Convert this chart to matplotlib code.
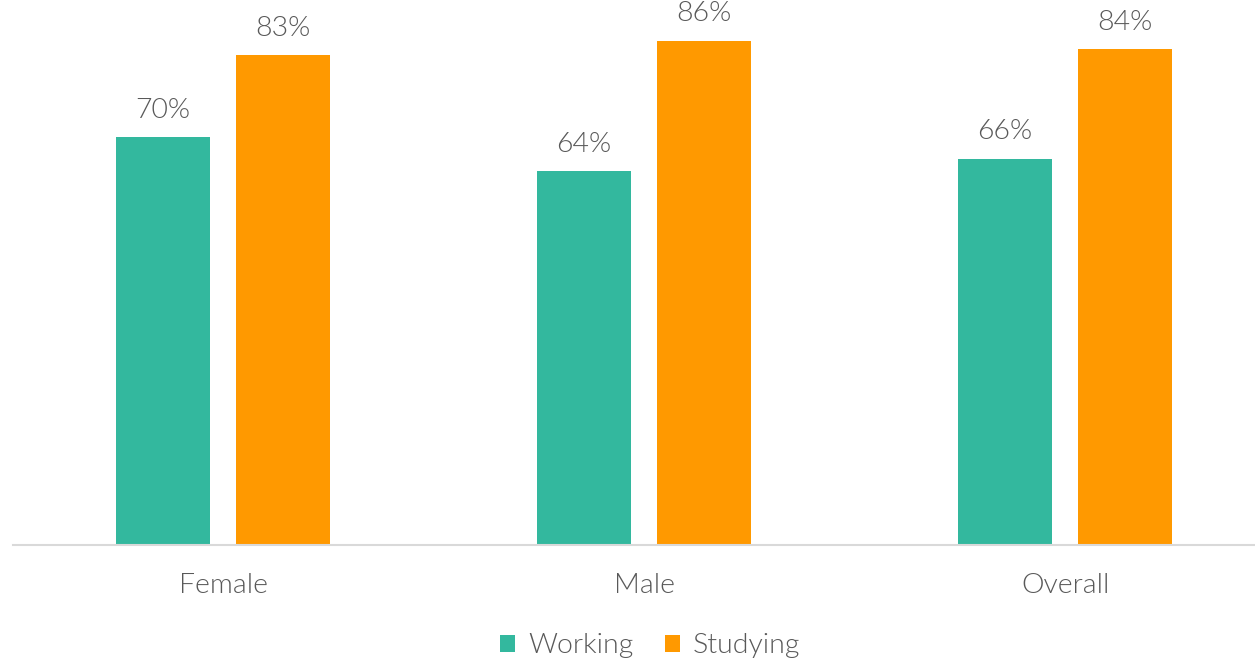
import matplotlib
matplotlib.use("Agg")
import matplotlib.pyplot as plt
import numpy as np

plt.rcParams['font.family'] = ['Lato', 'DejaVu Sans']

categories = ['Female', 'Male', 'Overall']
working = [69.6, 63.8, 65.9]
studying = [83.6, 86.0, 84.6]
working_labels = ['70%', '64%', '66%']
studying_labels = ['83%', '86%', '84%']

teal = '#33b89e'
orange = '#ff9900'
grey = '#595959'

fig = plt.figure(figsize=(12.55, 6.62), dpi=100)
ax = fig.add_axes([0.0, 117 / 662, 1.0, 545 / 662])

x = np.arange(len(categories))
w = 0.2233
off = 0.1425
b1 = ax.bar(x - off, working, w, color=teal, label='Working')
b2 = ax.bar(x + off, studying, w, color=orange, label='Studying')

for bars, labels in ((b1, working_labels), (b2, studying_labels)):
    for rect, lab in zip(bars, labels):
        ax.annotate(lab, (rect.get_x() + rect.get_width() / 2, rect.get_height()),
                    xytext=(0, 10.5), textcoords='offset points', ha='center', va='bottom',
                    fontsize=20.5, color=grey, fontweight=300, annotation_clip=False)

ax.set_xlim(-0.53, 2.451)
ax.set_ylim(0, 93)
ax.set_xticks(x)
ax.set_xticklabels(categories, fontsize=20.5, color=grey, fontweight=300)
ax.tick_params(axis='x', length=0, pad=20)
ax.set_yticks([])
for s in ['top', 'right', 'left']:
    ax.spines[s].set_visible(False)
ax.spines['bottom'].set_color('#d9d9d9')
ax.spines['bottom'].set_linewidth(1.5)
ax.spines['bottom'].set_bounds(-0.499, 2.451)

leg = fig.legend(handles=[b1, b2], loc='center', bbox_to_anchor=(650 / 1255, 1 - 646 / 662),
                 ncol=2, frameon=False, fontsize=20.5, handlelength=0.55, handleheight=0.55,
                 handletextpad=0.45, columnspacing=1.1, prop={'weight': 300, 'size': 20.5})
for t in leg.get_texts():
    t.set_color(grey)

fig.savefig('out.png', dpi=100)
